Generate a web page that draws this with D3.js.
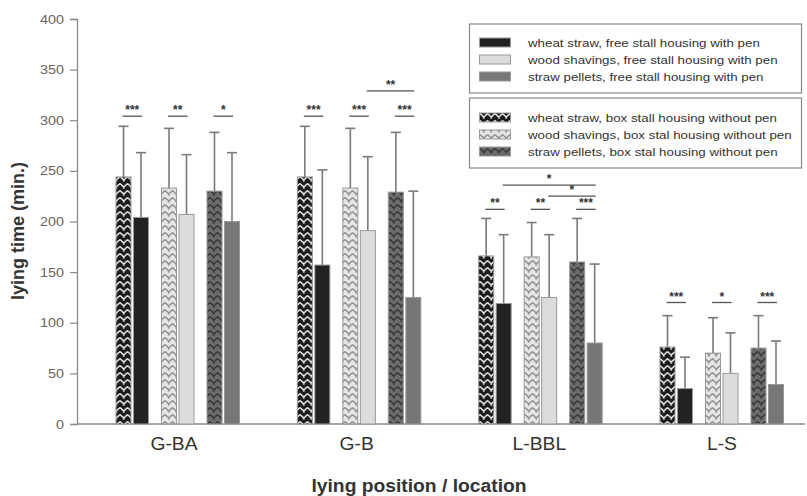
<!DOCTYPE html>
<html><head><meta charset="utf-8">
<script src="https://cdn.jsdelivr.net/npm/d3@7"></script>
<style>body{margin:0;background:#fff}svg{display:block;font-family:"Liberation Sans",Arial,sans-serif}</style>
</head><body><svg id="c" width="807" height="496"></svg>
<script>
const groups = ["G-BA","G-B","L-BBL","L-S"];
const materials = ["wheat straw","wood shavings","straw pellets"];
const housings = ["box","free"];
// means [group][material] : box stall (patterned) and free stall (solid)
const boxMeans  = [[244,233,230],[244,233,229],[166,165,160],[76,70,75]];
const boxErr    = [[294,292,288],[294,292,288],[203,199,203],[107,105,107]];
const freeMeans = [[204,207,200],[157,191,125],[119,125,80],[35,50,39]];
const freeErr   = [[268,266,268],[251,264,230],[187,187,158],[66,90,82]];
const yTicks = [0,50,100,150,200,250,300,350,400];
const legendFree = ["wheat straw, free stall housing with pen","wood shavings, free stall housing with pen","straw pellets, free stall housing with pen"];
const legendBox = ["wheat straw, box stall housing without pen","wood shavings, box stal housing without pen","straw pellets, box stal housing without pen"];
// significance: group, bar index from, bar index to (0..5), level (min), label
const sigs = [
  [0,0,1,304,"***"],[0,2,3,304,"**"],[0,4,5,304,"*"],
  [1,0,1,304,"***"],[1,2,3,304,"***"],[1,4,5,304,"***"],[1,3,5,329,"**"],
  [2,0,1,212,"**"],[2,2,3,212,"**"],[2,4,5,212,"***"],[2,1,5,236,"*"],[2,3,5,225,"*"],
  [3,0,1,120,"***"],[3,2,3,120,"*"],[3,4,5,120,"***"]
];

const svg = d3.select("#c");
const y = d3.scaleLinear().domain([0,400]).range([424,19]);
const xg = d3.scalePoint().domain(groups).range([116,660]);
const xm = d3.scaleBand().domain(materials).range([0,136.5]);
const xh = d3.scaleOrdinal().domain(housings).range([0,17.5]);
const bw = 15;
const xl = d3.scalePoint().domain(groups).range([174,722]);
const solid = ["#222","#dcdcdc","#777"];
const patBg = ["#1b1b1b","#e6e6e6","#6c6c6c"];
const patFg = ["#f2f2f2","#8a8a8a","#333"];

function stretch(sel,k){
  sel.each(function(){
    const w = this.getComputedTextLength();
    d3.select(this).attr("textLength",w*k).attr("lengthAdjust","spacingAndGlyphs");
  });
}

const defs = svg.append("defs");
materials.forEach((m,i)=>{
  const p = defs.append("pattern").attr("id","pat"+i).attr("patternUnits","userSpaceOnUse")
    .attr("width",7.5).attr("height",7).attr("x",0).attr("y",0);
  p.append("rect").attr("width",7.5).attr("height",7).attr("fill",patBg[i]);
  p.append("path").attr("d","M0,1.5 L3.75,5 L7.5,1.5").attr("fill","none")
    .attr("stroke",patFg[i]).attr("stroke-width",1.3);
  p.append("path").attr("d","M3.75,5 L3.75,7").attr("fill","none")
    .attr("stroke",patFg[i]).attr("stroke-width",1.1);
});

// axes
const ya = svg.append("g").attr("transform","translate(77,0)")
  .call(d3.axisLeft(y).tickValues(yTicks).tickSize(7).tickPadding(6));
ya.select(".domain").attr("stroke","#8a8a8a").attr("stroke-width",1.3);
ya.selectAll(".tick line").attr("stroke","#8a8a8a").attr("stroke-width",1.2);
ya.selectAll(".tick text").attr("fill","#666").style("font-size","12.5px")
  .style("font-family","'Liberation Sans',Arial").call(stretch,1.15);
svg.append("line").attr("x1",77).attr("x2",805).attr("y1",y(0)).attr("y2",y(0))
  .attr("stroke","#8a8a8a").attr("stroke-width",1.3);

// bars
const bars = [];
groups.forEach((g,gi)=>materials.forEach((m,mi)=>{
  bars.push({gi,mi,h:"box",v:boxMeans[gi][mi],e:boxErr[gi][mi]});
  bars.push({gi,mi,h:"free",v:freeMeans[gi][mi],e:freeErr[gi][mi]});
}));
const bx = d=>xg(groups[d.gi])+xm(materials[d.mi])+xh(d.h);
const bg = svg.append("g");
bg.selectAll("line.eb").data(bars).join("line").attr("class","eb")
  .attr("x1",d=>bx(d)+bw/2).attr("x2",d=>bx(d)+bw/2).attr("y1",d=>y(d.v)).attr("y2",d=>y(d.e))
  .attr("stroke","#7a7a7a").attr("stroke-width",1.6);
bg.selectAll("line.cap").data(bars).join("line").attr("class","cap")
  .attr("x1",d=>bx(d)+bw/2-5).attr("x2",d=>bx(d)+bw/2+5).attr("y1",d=>y(d.e)).attr("y2",d=>y(d.e))
  .attr("stroke","#7a7a7a").attr("stroke-width",1.6);
bg.selectAll("rect").data(bars).join("rect")
  .attr("x",bx).attr("width",bw).attr("y",d=>y(d.v)).attr("height",d=>y(0)-y(d.v))
  .attr("fill",d=>d.h==="box"?`url(#pat${d.mi})`:solid[d.mi])
  .attr("stroke","#999").attr("stroke-width",1);

// significance
const sx = (gi,bi)=>xg(groups[gi])+xm(materials[Math.floor(bi/2)])+xh(housings[bi%2])+bw/2;
const sg = svg.append("g");
sigs.forEach(s=>{
  const x1 = sx(s[0],s[1]), x2 = sx(s[0],s[2]);
  sg.append("line").attr("x1",x1-1).attr("x2",x2+1).attr("y1",y(s[3])).attr("y2",y(s[3]))
    .attr("stroke","#555").attr("stroke-width",1.3);
  sg.append("text").attr("x",(x1+x2)/2).attr("y",y(s[3])-2).attr("text-anchor","middle")
    .attr("fill","#333").style("font-size","12px").style("font-weight","bold").text(s[4]);
});

// category labels
svg.selectAll("text.cat").data(groups).join("text").attr("class","cat")
  .attr("x",d=>xl(d)).attr("y",450).attr("text-anchor","middle").attr("fill","#333")
  .style("font-size","18px").text(d=>d).call(stretch,1.07);

// axis titles
svg.append("text").attr("x",419).attr("y",492).attr("text-anchor","middle").attr("fill","#333")
  .style("font-size","18px").style("font-weight","bold").text("lying position / location").call(stretch,1.07);
svg.append("text").attr("transform","translate(24,231) rotate(-90)").attr("text-anchor","middle")
  .attr("fill","#333").style("font-size","18px").style("font-weight","bold").text("lying time (min.)");

// legend
const leg = svg.append("g");
const boxes = [{y0:24,y1:93,items:legendFree,pat:false},{y0:98,y1:168,items:legendBox,pat:true}];
const rowY = d3.scalePoint().domain([0,1,2]).range([0,34]);
boxes.forEach((b,bi)=>{
  leg.append("rect").attr("x",469.5).attr("y",b.y0).attr("width",332).attr("height",b.y1-b.y0)
    .attr("fill","#fff").attr("stroke","#888").attr("stroke-width",1.2);
  b.items.forEach((t,i)=>{
    const cy = b.y0+(bi===0?18.5:19.5)+rowY(i);
    leg.append("rect").attr("x",479.5).attr("y",cy-4.5).attr("width",31).attr("height",9)
      .attr("fill",b.pat?`url(#pat${i})`:solid[i]).attr("stroke","#999").attr("stroke-width",1);
    leg.append("text").attr("x",528).attr("y",cy+4).attr("fill","#333")
      .style("font-size","11.7px").text(t).call(stretch,1.14);
  });
});
</script></body></html>
